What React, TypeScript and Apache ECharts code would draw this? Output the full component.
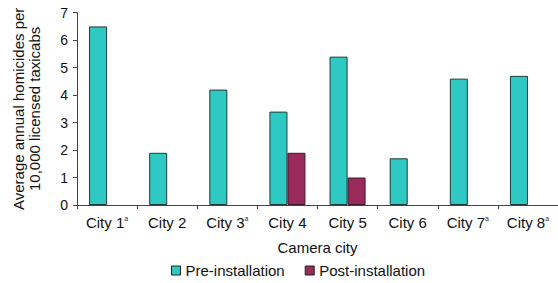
import React, { useEffect, useRef } from "react";
import * as echarts from "echarts";

const categories = ["City 1", "City 2", "City 3", "City 4", "City 5", "City 6", "City 7", "City 8"];
const superscripts = ["a", "", "a", "", "", "", "a", "a"];
const preInstallation = [6.5, 1.9, 4.2, 3.4, 5.4, 1.7, 4.6, 4.7];
const postInstallation = [null, null, null, 1.9, 1.0, null, null, null];
const yTicks = { min: 0, max: 7, interval: 1 };

export default function App() {
  const ref = useRef<HTMLDivElement>(null);
  useEffect(() => {
    const chart = echarts.init(ref.current!, null, { renderer: "svg" });
    const font = "'Liberation Sans', Arial, sans-serif";
    chart.setOption({
      animation: false,
      textStyle: { fontFamily: font },
      grid: { left: 77, top: 12.7, height: 192.3, width: 492, containLabel: false },
      legend: {
        bottom: 0,
        left: 166,
        itemWidth: 9,
        itemHeight: 9,
        itemGap: 20,
        icon: "rect",
        textStyle: { fontSize: 15, color: "#111", fontFamily: font },
        data: [
          { name: "Pre-installation", itemStyle: { color: "#2fc9c3", borderColor: "#222", borderWidth: 1 } },
          { name: "Post-installation", itemStyle: { color: "#9b2a5c", borderColor: "#222", borderWidth: 1 } },
        ],
      },
      xAxis: {
        type: "category",
        data: categories,
        name: "Camera city",
        nameLocation: "middle",
        nameGap: 35,
        nameTextStyle: { fontSize: 15, color: "#111", fontFamily: font },
        axisLine: { lineStyle: { color: "#444", width: 1 } },
        axisTick: { show: true, alignWithLabel: false, length: 4, lineStyle: { color: "#444" } },
        axisLabel: {
          interval: 0,
          margin: 10,
          fontSize: 15,
          color: "#111",
          fontFamily: font,
          formatter: (v: string, i: number) =>
            superscripts[i] ? `${v}{sup|${superscripts[i]}}` : v,
          rich: {
            sup: { fontSize: 7, verticalAlign: "top", padding: [0, 0, 8, 0], color: "#333", fontFamily: font },
          },
        },
      },
      yAxis: {
        type: "value",
        min: yTicks.min,
        max: yTicks.max,
        interval: yTicks.interval,
        name: "Average annual homicides per\n10,000 licensed taxicabs",
        nameLocation: "middle",
        nameGap: 35,
        nameRotate: 90,
        nameTextStyle: { fontSize: 15, color: "#111", lineHeight: 16, fontFamily: font },
        axisLine: { show: true, lineStyle: { color: "#444", width: 1 } },
        axisTick: { show: true, length: 4, lineStyle: { color: "#444" } },
        splitLine: { show: false },
        axisLabel: { fontSize: 14, color: "#111", margin: 9, fontFamily: font },
      },
      series: [
        {
          name: "Pre-installation",
          type: "bar",
          data: preInstallation,
          barWidth: 18,
          barGap: "0%",
          itemStyle: { color: "#2fc9c3", borderColor: "#1e3a3a", borderWidth: 1 },
        },
        {
          name: "Post-installation",
          type: "bar",
          data: postInstallation,
          barWidth: 18,
          barGap: "0%",
          itemStyle: { color: "#9b2a5c", borderColor: "#3a1a28", borderWidth: 1 },
        },
      ],
    });
    return () => chart.dispose();
  }, []);
  return <div ref={ref} style={{ width: 558, height: 283, position: "absolute", left: 0, top: 0 }} />;
}
